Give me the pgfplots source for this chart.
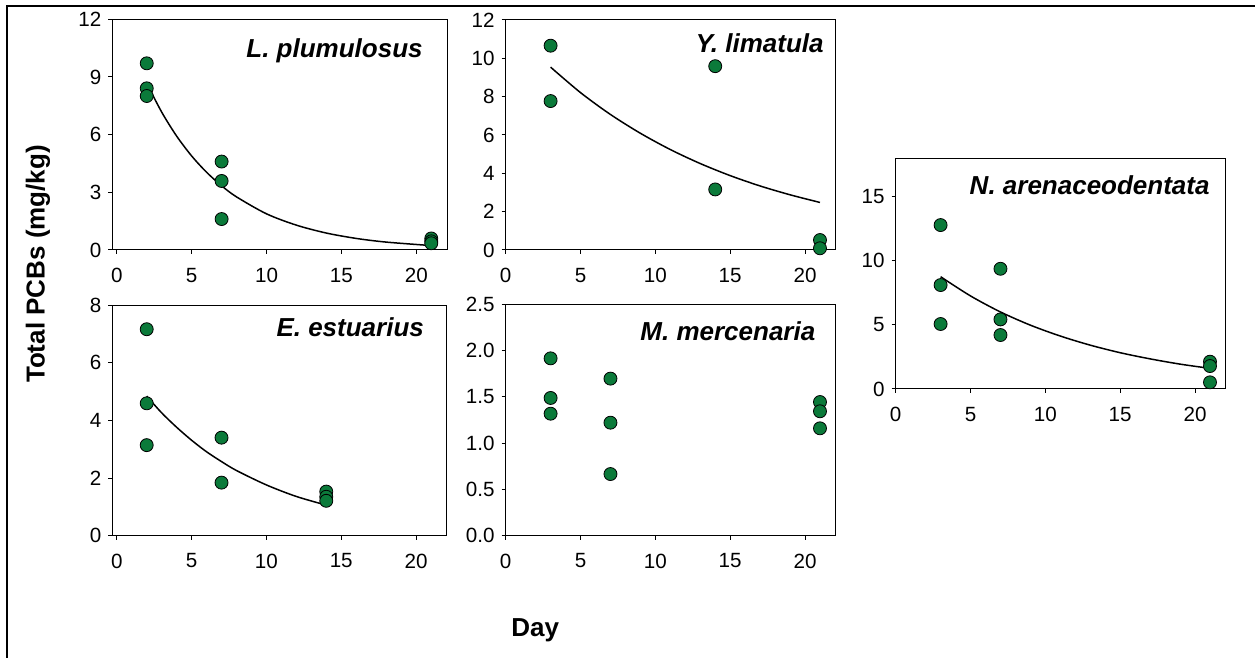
\documentclass[border=0pt]{standalone}
\usepackage{fontspec}
\setmainfont{Liberation Sans}
\usepackage{pgfplots}
\pgfplotsset{compat=1.18}
\definecolor{markgreen}{RGB}{11,122,58}

\pgfplotsset{
  panel/.style={
    scale only axis, anchor=south west,
    xmax=22.05, xtick={0,5,10,15,20},
    ymin=0,
    tick align=outside, xtick pos=bottom, ytick pos=left,
    major tick length=2pt,
    tick style={black, line width=0.5pt},
    axis line style={black, line width=0.5pt},
    /pgf/number format/assume math mode=true,
    tick label style={font=\fontsize{10.3}{12}\selectfont},
    xticklabel style={yshift=-3.5pt},
    clip=false,
  },
  pts/.style={only marks, mark=*, mark size=3.25pt,
    mark options={fill=markgreen, draw=black, line width=0.4pt}},
  fitline/.style={black, line width=0.75pt, smooth, no marks},
}
\newcommand\species[3]{%
  \node[anchor=base east, inner sep=0pt, xshift=-#1, yshift=-#2,
        font=\fontsize{13}{15}\selectfont\bfseries\itshape]
    at (rel axis cs:1,1) {#3};}

\begin{document}
\begin{tikzpicture}
\useasboundingbox (0,0) rectangle (627.5pt,329pt);
\draw[black, line width=0.8pt] (3.5pt,0pt) -- (3.5pt,326pt) -- (627.5pt,326pt);

% L. plumulosus
\begin{axis}[panel, at={(56.15pt,204pt)}, width=167.35pt, height=115.35pt,
  xmin=-0.3, ymax=12, ytick={0,3,6,9,12}]
  \addplot[pts] coordinates {(2,9.71) (2,8.41) (2,8.01) (7,4.60) (7,3.59) (7,1.61)
    (21,0.60) (21,0.45) (21,0.35)};
  \addplot[fitline] coordinates {(2,8.67) (3,7.17) (4,5.92) (5,4.89) (6,4.04) (7,3.34)
    (8,2.76) (10,1.88) (12,1.29) (14,0.88) (16,0.60) (18,0.41) (21,0.23)};
  \species{12pt}{19pt}{L. plumulosus}
\end{axis}

% Y. limatula
\begin{axis}[panel, at={(252.85pt,204pt)}, width=165pt, height=115pt,
  xmin=0, ymax=12, ytick={0,2,4,6,8,10,12}]
  \addplot[pts] coordinates {(3,10.66) (3,7.77) (14,9.59) (14,3.16) (21,0.52) (21,0.09)};
  \addplot[fitline] coordinates {(3,9.54) (5,8.21) (7,7.07) (9,6.09) (11,5.24) (13,4.51)
    (15,3.88) (17,3.34) (19,2.88) (21,2.48)};
  \species{5.85pt}{16.5pt}{Y. limatula}
\end{axis}

% N. arenaceodentata
\begin{axis}[panel, at={(447.85pt,134.5pt)}, width=165pt, height=115.35pt,
  xmin=0, ymax=18, ytick={0,5,10,15}]
  \addplot[pts] coordinates {(3,12.79) (3,8.11) (3,5.07) (7,9.38) (7,5.43) (7,4.21)
    (21,2.13) (21,1.79) (21,0.52)};
  \addplot[fitline] coordinates {(3,8.76) (5,7.26) (7,6.01) (9,4.98) (11,4.13) (13,3.42)
    (15,2.83) (17,2.35) (19,1.94) (21,1.61)};
  \species{7.85pt}{18pt}{N. arenaceodentata}
\end{axis}

% E. estuarius
\begin{axis}[panel, at={(56.15pt,61.15pt)}, width=167.2pt, height=115.35pt,
  xmin=-0.3, ymax=8, ytick={0,2,4,6,8}]
  \addplot[pts] coordinates {(2,7.16) (2,4.59) (2,3.14) (7,3.40) (7,1.84)
    (14,1.53) (14,1.35) (14,1.21)};
  \addplot[fitline] coordinates {(2,4.84) (3,4.26) (4,3.76) (5,3.31) (6,2.91) (7,2.57)
    (8,2.26) (10,1.76) (12,1.36) (14,1.06)};
  \species{11.2pt}{15.85pt}{E. estuarius}
\end{axis}

% M. mercenaria
\begin{axis}[panel, at={(252.85pt,61.15pt)}, width=165pt, height=115.7pt,
  xmin=0, ymax=2.5, ytick={0,0.5,1,1.5,2,2.5},
  yticklabel style={/pgf/number format/fixed, /pgf/number format/fixed zerofill,
    /pgf/number format/precision=1}]
  \addplot[pts] coordinates {(3,1.916) (3,1.488) (3,1.318) (7,1.697) (7,1.221) (7,0.666)
    (21,1.444) (21,1.344) (21,1.160)};
  \species{10pt}{18.2pt}{M. mercenaria}
\end{axis}

\node[rotate=90, font=\fontsize{13}{15}\selectfont\bfseries] at (19pt,197pt)
  {Total PCBs (mg/kg)};
\node[anchor=base, font=\fontsize{13}{15}\selectfont\bfseries] at (267.65pt,10.65pt) {Day};
\end{tikzpicture}
\end{document}
